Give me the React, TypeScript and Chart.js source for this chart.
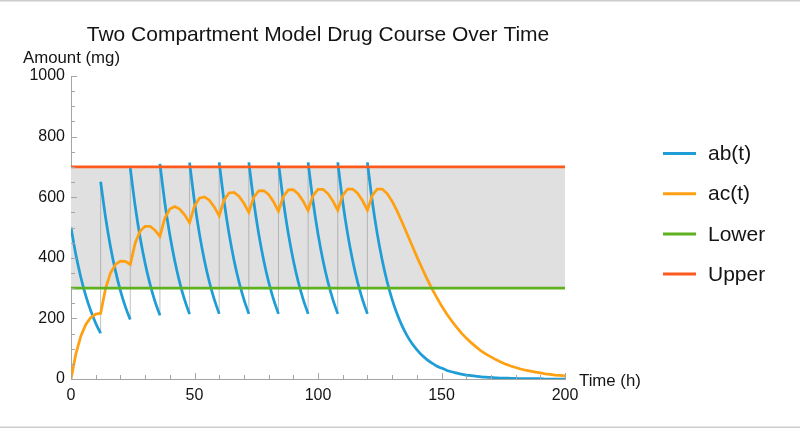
import React, { useEffect, useRef } from "react";
import { Chart, registerables } from "chart.js";

Chart.register(...registerables);

// ---------- data ----------
const titleText = "Two Compartment Model Drug Course Over Time";
const yAxisLabel = "Amount (mg)";
const xAxisLabel = "Time (h)";
const seriesNames = ["ab(t)", "ac(t)", "Lower", "Upper"];

const hours = [
  0, 2, 4, 6, 8, 10,
  12, 14, 16, 18, 20, 22,
  24, 26, 28, 30, 32, 34,
  36, 38, 40, 42, 44, 46,
  48, 50, 52, 54, 56, 58,
  60, 62, 64, 66, 68, 70,
  72, 74, 76, 78, 80, 82,
  84, 86, 88, 90, 92, 94,
  96, 98, 100, 102, 104, 106,
  108, 110, 112, 114, 116, 118,
  120, 122, 124, 126, 128, 130,
  132, 134, 136, 138, 140, 142,
  144, 146, 148, 150, 152, 154,
  156, 158, 160, 162, 164, 166,
  168, 170, 172, 174, 176, 178,
  180, 182, 184, 186, 188, 190,
  192, 194, 196, 198, 200,
];

// dose times at which ab(t) jumps
const doseTimes = [12, 24, 36, 48, 60, 72, 84, 96, 108, 120];
// ab(t) just before each dose
const abTroughs = [151, 196, 210, 214, 215, 215, 215, 215, 215, 215];

// ab(t) on the time grid (value right after the dose at dose times)
const abValues = [
  500, 409, 335, 274, 225, 184,
  651, 533, 436, 357, 292, 239,
  696, 570, 466, 382, 313, 256,
  710, 581, 476, 390, 319, 261,
  714, 585, 479, 392, 321, 263,
  715, 585, 479, 392, 321, 263,
  715, 585, 479, 392, 321, 263,
  715, 585, 479, 392, 321, 263,
  715, 585, 479, 392, 321, 263,
  715, 585, 479, 392, 321, 263,
  715, 585, 479, 392, 321, 263,
  215, 176, 144, 118, 97, 79,
  65, 53, 43, 36, 29, 24,
  20, 16, 13, 11, 9, 7,
  6, 5, 4, 3, 3, 2,
  2, 1, 1, 1, 1, 1,
  0, 0, 0, 0, 0,
];

// ac(t) on the time grid
const acValues = [
  0, 84, 142, 180, 203, 214,
  217, 299, 350, 378, 389, 388,
  378, 449, 488, 504, 504, 491,
  471, 531, 561, 569, 561, 542,
  516, 571, 597, 601, 590, 568,
  539, 591, 614, 616, 603, 580,
  550, 600, 621, 622, 609, 585,
  554, 603, 624, 625, 611, 587,
  556, 605, 626, 626, 612, 588,
  557, 606, 627, 627, 613, 589,
  557, 606, 627, 627, 612, 587,
  555, 518, 480, 442, 404, 368,
  333, 300, 270, 242, 216, 193,
  172, 152, 135, 120, 106, 93,
  82, 73, 64, 56, 49, 43,
  38, 33, 29, 26, 23, 20,
  17, 15, 13, 12, 10,
];

const lowerLimit = 300;
const upperLimit = 700;
const xRange = [0, 200];
const xTickValues = [0, 50, 100, 150, 200];
const yTickValues = [0, 200, 400, 600, 800, 1000];

// ---------- styles ----------
const FONT = '"Liberation Sans", Arial, Helvetica, sans-serif';
const BLUE = "#1f9dd6";
const ORANGE = "#ffa012";
const GREEN = "#5fb21f";
const RED = "#ff5a1e";
const FILL = "rgb(224,224,224)";
const AXIS = "rgb(165,165,165)";
const TEXT = "#141414";

export default function App() {
  const ref = useRef<HTMLCanvasElement | null>(null);

  useEffect(() => {
    const canvas = ref.current;
    if (!canvas) return;

    const abData: { x: number; y: number | null }[] = [];
    hours.forEach((t, i) => {
      const k = doseTimes.indexOf(t);
      if (k >= 0) {
        abData.push({ x: t, y: abTroughs[k] });
        abData.push({ x: t, y: null });
      }
      abData.push({ x: t, y: abValues[i] });
    });

    const doseLineData: { x: number; y: number | null }[] = [];
    doseTimes.forEach((t, k) => {
      const i = hours.indexOf(t);
      doseLineData.push({ x: t, y: abTroughs[k] });
      doseLineData.push({ x: t, y: abValues[i] });
      doseLineData.push({ x: t, y: null });
    });

    const acData = hours.map((t, i) => ({ x: t, y: acValues[i] }));
    const lowerData = xRange.map((t) => ({ x: t, y: lowerLimit }));
    const upperData = xRange.map((t) => ({ x: t, y: upperLimit }));

    const decorPlugin = {
      id: "decor",
      beforeDraw(chart: any) {
        const { ctx, width, height } = chart;
        ctx.save();
        ctx.fillStyle = "#ffffff";
        ctx.fillRect(0, 0, width, height);
        ctx.restore();
      },
      afterDatasetsDraw(chart: any) {
        const { ctx, chartArea } = chart;
        const xs = chart.scales.x;
        const ys = chart.scales.y;
        ctx.save();
        ctx.strokeStyle = AXIS;
        ctx.lineWidth = 1;
        ctx.beginPath();
        for (let v = xRange[0]; v <= xRange[1]; v += 10) {
          const px = Math.round(xs.getPixelForValue(v)) + 0.5;
          const len = v % 50 === 0 ? 6 : 4;
          ctx.moveTo(px, chartArea.bottom);
          ctx.lineTo(px, chartArea.bottom - len);
        }
        for (let v = 0; v <= 1000; v += 50) {
          const py = Math.round(ys.getPixelForValue(v)) + 0.5;
          const len = v % 200 === 0 ? 6 : 4;
          ctx.moveTo(chartArea.left, py);
          ctx.lineTo(chartArea.left + len, py);
        }
        ctx.stroke();
        ctx.restore();
      },
      afterDraw(chart: any) {
        const { ctx, chartArea, width, height } = chart;
        ctx.save();
        // frame rules
        ctx.strokeStyle = "rgb(205,205,205)";
        ctx.lineWidth = 1.5;
        ctx.beginPath();
        ctx.moveTo(0, 0.75);
        ctx.lineTo(width, 0.75);
        ctx.moveTo(0, height - 1.75);
        ctx.lineTo(width, height - 1.75);
        ctx.stroke();

        // title
        ctx.fillStyle = TEXT;
        ctx.textBaseline = "alphabetic";
        ctx.textAlign = "center";
        ctx.font = `21px ${FONT}`;
        ctx.fillText(titleText, (chartArea.left + chartArea.right) / 2, 41);

        // axis labels
        ctx.font = `16.8px ${FONT}`;
        ctx.textAlign = "left";
        ctx.fillText(yAxisLabel, 23, 63);
        ctx.fillText(xAxisLabel, chartArea.right + 14, 386);

        // legend
        const colors = [BLUE, ORANGE, GREEN, RED];
        ctx.font = `21px ${FONT}`;
        ctx.textBaseline = "middle";
        seriesNames.forEach((name, i) => {
          const y = 153.5 + i * 40.2;
          ctx.strokeStyle = colors[i];
          ctx.lineWidth = 3;
          ctx.beginPath();
          ctx.moveTo(663, y);
          ctx.lineTo(696, y);
          ctx.stroke();
          ctx.fillStyle = TEXT;
          ctx.fillText(name, 708, y + 1);
        });
        ctx.restore();
      },
    };

    const chart = new Chart(canvas, {
      type: "line",
      data: {
        datasets: [
          {
            label: seriesNames[0],
            data: abData,
            borderColor: BLUE,
            backgroundColor: BLUE,
            borderWidth: 2.75,
            pointRadius: 0,
            cubicInterpolationMode: "monotone",
            spanGaps: false,
            fill: false,
            order: 3,
          },
          {
            label: seriesNames[1],
            data: acData,
            borderColor: ORANGE,
            backgroundColor: ORANGE,
            borderWidth: 2.75,
            pointRadius: 0,
            tension: 0,
            fill: false,
            order: 2,
          },
          {
            label: seriesNames[2],
            data: lowerData,
            borderColor: GREEN,
            backgroundColor: GREEN,
            borderWidth: 2.75,
            pointRadius: 0,
            fill: false,
            order: 1,
          },
          {
            label: seriesNames[3],
            data: upperData,
            borderColor: RED,
            backgroundColor: FILL,
            borderWidth: 2.75,
            pointRadius: 0,
            fill: { target: 2 },
            order: 0,
          },
          {
            label: "doses",
            data: doseLineData,
            borderColor: "rgba(150,150,150,0.6)",
            borderWidth: 1,
            pointRadius: 0,
            spanGaps: false,
            fill: false,
            order: 4,
          },
        ],
      } as any,
      options: {
        animation: false,
        responsive: false,
        maintainAspectRatio: false,
        events: [],
        layout: { padding: { left: 0, top: 76, right: 235, bottom: 0 } },
        plugins: {
          legend: { display: false },
          title: { display: false },
          tooltip: { enabled: false },
          filler: { drawTime: "beforeDatasetsDraw" },
        } as any,
        scales: {
          x: {
            type: "linear",
            min: xRange[0],
            max: xRange[1],
            afterFit(s: any) {
              s.height = 50;
            },
            afterBuildTicks(s: any) {
              s.ticks = xTickValues.map((v) => ({ value: v }));
            },
            grid: { display: false, drawTicks: false },
            border: { display: true, color: AXIS, width: 1 },
            ticks: {
              font: { family: FONT, size: 16 },
              color: TEXT,
              padding: 7,
              maxRotation: 0,
              autoSkip: false,
              callback: (v: any) => String(v),
            },
          },
          y: {
            type: "linear",
            min: 0,
            max: 1000,
            afterFit(s: any) {
              s.width = 71;
            },
            afterBuildTicks(s: any) {
              s.ticks = yTickValues.map((v) => ({ value: v }));
            },
            grid: { display: false, drawTicks: false },
            border: { display: true, color: AXIS, width: 1 },
            ticks: {
              font: { family: FONT, size: 16 },
              color: TEXT,
              padding: 6,
              autoSkip: false,
              callback: (v: any) => String(v),
            },
          },
        } as any,
      },
      plugins: [decorPlugin],
    });

    return () => chart.destroy();
  }, []);

  return (
    <div
      style={{
        position: "fixed",
        left: 0,
        top: 0,
        width: 800,
        height: 429,
        background: "#fff",
      }}
    >
      <canvas
        ref={ref}
        width={800}
        height={429}
        style={{ width: 800, height: 429, display: "block" }}
      />
    </div>
  );
}
